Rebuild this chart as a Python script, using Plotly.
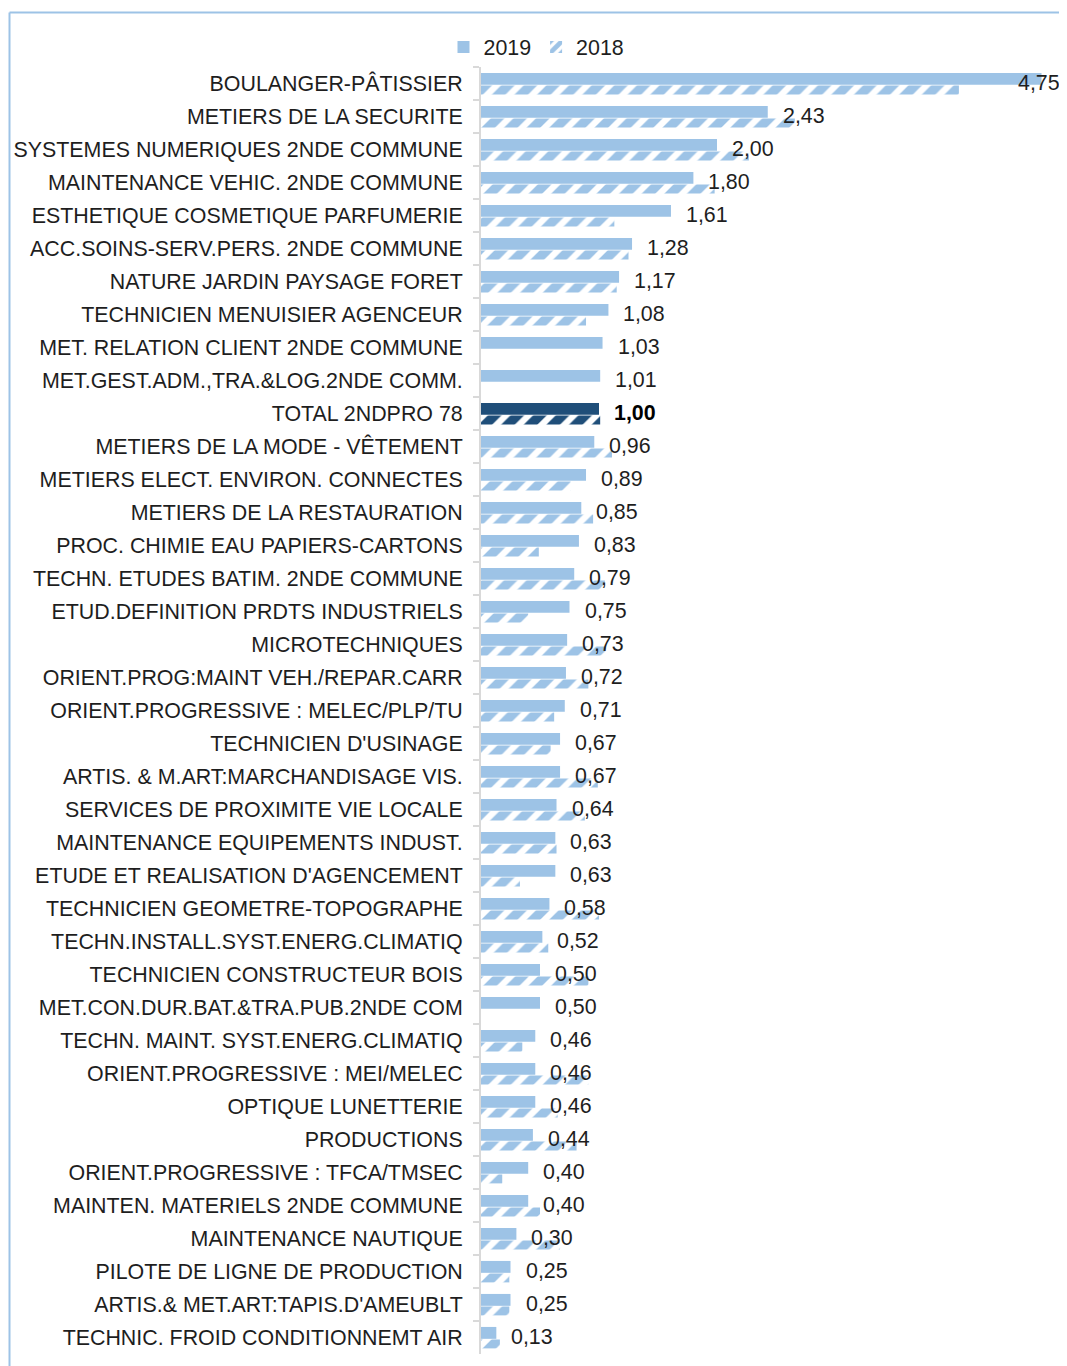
import plotly.graph_objects as go

categories = [
    "BOULANGER-PÂTISSIER",
    "METIERS DE LA SECURITE",
    "SYSTEMES NUMERIQUES 2NDE COMMUNE",
    "MAINTENANCE VEHIC. 2NDE COMMUNE",
    "ESTHETIQUE COSMETIQUE PARFUMERIE",
    "ACC.SOINS-SERV.PERS. 2NDE COMMUNE",
    "NATURE JARDIN PAYSAGE FORET",
    "TECHNICIEN MENUISIER AGENCEUR",
    "MET. RELATION CLIENT 2NDE COMMUNE",
    "MET.GEST.ADM.,TRA.&LOG.2NDE COMM.",
    "TOTAL 2NDPRO 78",
    "METIERS DE LA MODE - VÊTEMENT",
    "METIERS ELECT. ENVIRON. CONNECTES",
    "METIERS DE LA RESTAURATION",
    "PROC. CHIMIE EAU PAPIERS-CARTONS",
    "TECHN. ETUDES BATIM. 2NDE COMMUNE",
    "ETUD.DEFINITION PRDTS INDUSTRIELS",
    "MICROTECHNIQUES",
    "ORIENT.PROG:MAINT VEH./REPAR.CARR",
    "ORIENT.PROGRESSIVE : MELEC/PLP/TU",
    "TECHNICIEN D'USINAGE",
    "ARTIS. & M.ART:MARCHANDISAGE VIS.",
    "SERVICES DE PROXIMITE VIE LOCALE",
    "MAINTENANCE EQUIPEMENTS INDUST.",
    "ETUDE ET REALISATION D'AGENCEMENT",
    "TECHNICIEN GEOMETRE-TOPOGRAPHE",
    "TECHN.INSTALL.SYST.ENERG.CLIMATIQ",
    "TECHNICIEN CONSTRUCTEUR BOIS",
    "MET.CON.DUR.BAT.&TRA.PUB.2NDE COM",
    "TECHN. MAINT. SYST.ENERG.CLIMATIQ",
    "ORIENT.PROGRESSIVE : MEI/MELEC",
    "OPTIQUE LUNETTERIE",
    "PRODUCTIONS",
    "ORIENT.PROGRESSIVE : TFCA/TMSEC",
    "MAINTEN. MATERIELS 2NDE COMMUNE",
    "MAINTENANCE NAUTIQUE",
    "PILOTE DE LIGNE DE PRODUCTION",
    "ARTIS.& MET.ART:TAPIS.D'AMEUBLT",
    "TECHNIC. FROID CONDITIONNEMT AIR",
]

values_2019 = [4.75, 2.43, 2.00, 1.80, 1.61, 1.28, 1.17, 1.08, 1.03, 1.01,
               1.00, 0.96, 0.89, 0.85, 0.83, 0.79, 0.75, 0.73, 0.72, 0.71,
               0.67, 0.67, 0.64, 0.63, 0.63, 0.58, 0.52, 0.50, 0.50, 0.46,
               0.46, 0.46, 0.44, 0.40, 0.40, 0.30, 0.25, 0.25, 0.13]

values_2018 = [4.05, 2.66, 2.27, 1.98, 1.13, 1.25, 1.15, 0.89, None, None,
               1.01, 1.11, 0.76, 0.95, 0.49, 1.05, 0.40, 1.06, 0.91, 0.62,
               0.59, 0.99, 0.88, 0.64, 0.33, 1.00, 0.57, 0.91, None, 0.35,
               0.91, 0.65, 0.81, 0.18, 0.50, 0.67, 0.24, 0.24, 0.16]

total_label = "TOTAL 2NDPRO 78"

LIGHT = "#9DC3E6"
DARK = "#1F4E79"
TEXT = "#1E1E1E"
FONT = "Liberation Sans, Arial, sans-serif"
FS = 21.4

colors = [DARK if c == total_label else LIGHT for c in categories]

fig = go.Figure()
fig.add_trace(go.Bar(
    name="2019", y=categories, x=values_2019, orientation="h",
    marker=dict(color=colors, line=dict(width=0)),
    width=0.36, offset=-0.32, hoverinfo="x+y",
))
fig.add_trace(go.Bar(
    name="2018", y=categories, x=values_2018, orientation="h",
    marker=dict(color="white", line=dict(width=0),
                pattern=dict(shape="/", fgcolor=colors, bgcolor="white",
                             size=16, solidity=0.6, fillmode="replace")),
    width=0.27, offset=0.06, hoverinfo="x+y",
))

vmax = max(values_2019)
for cat, v in zip(categories, values_2019):
    label = f"{v:.2f}".replace(".", ",")
    is_total = cat == total_label
    if v == vmax:
        fig.add_annotation(x=v, y=cat, text=label, showarrow=False,
                           xanchor="right", xshift=20, yshift=1,
                           font=dict(size=FS, color=TEXT, family=FONT))
    else:
        fig.add_annotation(x=v, y=cat, text=(f"<b>{label}</b>" if is_total else label),
                           showarrow=False, xanchor="left", xshift=13, yshift=1,
                           font=dict(size=FS, color=("black" if is_total else TEXT), family=FONT))

# chart border (left and top edges visible)
fig.add_shape(type="line", xref="paper", yref="paper", x0=-0.8046, x1=1.05,
              y0=1.0423, y1=1.0423, line=dict(color=LIGHT, width=2))
fig.add_shape(type="line", xref="paper", yref="paper", x0=-0.8046, x1=-0.8046,
              y0=1.0423, y1=-0.02, line=dict(color=LIGHT, width=2))

fig.update_layout(
    width=1059, height=1358,
    margin=dict(l=473, r=0, t=59, b=12),
    paper_bgcolor="white", plot_bgcolor="white",
    barmode="overlay",
    font=dict(family=FONT, size=FS, color=TEXT),
    showlegend=True,
    legend=dict(orientation="h", x=-0.064, xanchor="left", y=1.0155, yanchor="middle",
                font=dict(size=FS, color=TEXT), traceorder="normal",
                itemwidth=30, bgcolor="rgba(0,0,0,0)"),
    xaxis=dict(range=[0, 4.966], visible=False, fixedrange=True),
    yaxis=dict(autorange="reversed", categoryorder="array", categoryarray=categories,
               showline=True, linecolor="#D9D9D9", linewidth=2,
               ticks="outside", tickson="boundaries", ticklen=6, tickcolor="#D9D9D9",
               tickwidth=2, ticklabelstandoff=12, showgrid=False,
               tickfont=dict(size=FS, color=TEXT, family=FONT)),
)

fig.write_html("out.html")
